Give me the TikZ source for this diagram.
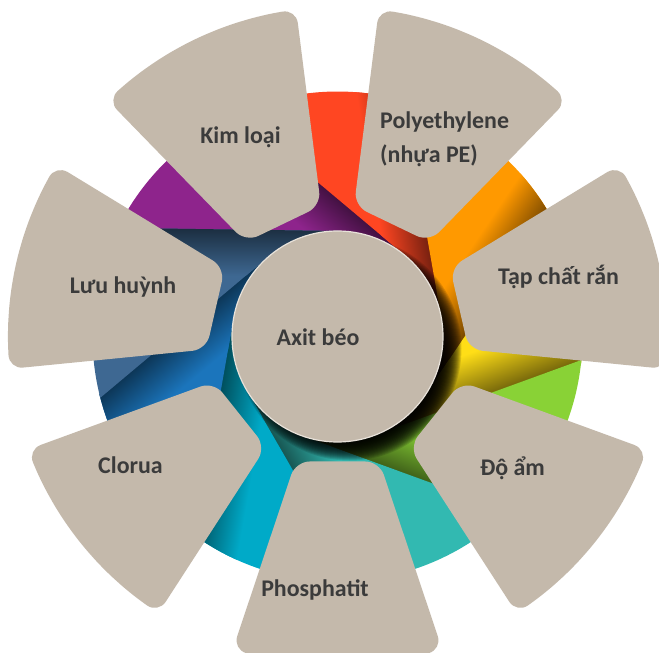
\documentclass[tikz,border=0pt]{standalone}
\usepackage{fontspec}
\setmainfont{Carlito}
\definecolor{petalfill}{RGB}{196,185,171}
\definecolor{labeltext}{RGB}{59,59,59}
\definecolor{rimcolor}{RGB}{232,226,218}
\definecolor{cpurple}{RGB}{142,36,140}
\definecolor{cred}{RGB}{255,70,34}
\definecolor{corange}{RGB}{255,153,0}
\definecolor{cyellow}{RGB}{255,222,23}
\definecolor{cgreen}{RGB}{137,210,54}
\definecolor{cteal}{RGB}{50,185,177}
\definecolor{ccyan}{RGB}{0,170,200}
\definecolor{cblue}{RGB}{27,117,188}
\definecolor{csteel}{RGB}{62,104,146}
\begin{document}
\begin{tikzpicture}[x=1bp,y=1bp,
  petal/.style={fill=petalfill, rounded corners=14bp},
  lbl/.style={font=\bfseries\fontsize{24}{34}\selectfont, text=labeltext, inner sep=0pt, anchor=base},
  core/.style={circle, minimum size=211bp, inner sep=0pt, fill=petalfill, draw=rimcolor, line width=1.2bp}]
\useasboundingbox (-337.5,-316.5) rectangle (321.5,336.5);
\fill[white] (-337.5,-316.5) rectangle (321.5,336.5);

% pinwheel of coloured blades: each blade lies between two tangent lines of the core circle
\foreach \pa/\pc/\base in {90/50/cpurple, 50/10/cred, 10/-34/corange, -34/-70/cyellow,
    -70/-110/cgreen, -110/-150/cteal, -150/-190/ccyan, -190/-230/cblue, -230/-270/csteel}{
  \pgfmathsetmacro\pb{\pc-0.8}
  \pgfmathsetmacro\oa{\pa+64.49}
  \pgfmathsetmacro\ob{\pb+64.49}
  \fill[\base] (\pa:105.5) -- (\oa:245) arc[start angle=\oa, end angle=\ob, radius=245]
     -- (\pb:105.5) arc[start angle=\pb, end angle=\pa, radius=105.5] -- cycle;
  \begin{scope}
    \clip (\pa:105.5) -- (\oa:245) arc[start angle=\oa, end angle=\ob, radius=245]
     -- (\pb:105.5) arc[start angle=\pb, end angle=\pa, radius=105.5] -- cycle;
    \begin{scope}[transform canvas={shift={(\pc:105.5)}, rotate=\pc+90}]
      \shade[top color=\base, bottom color=\base!40!black] (-90,-6) rectangle (260,45);
    \end{scope}
  \end{scope}
}

% soft shadow of the core towards the lower right
\foreach \r in {92,...,112}{
  \fill[black, opacity=0.13] (12,-12) circle (\r);
}

\node[core] (core) at (0,0) {};

% petals
\foreach \t/\nm in {-90/pphos,-38.571/pam,12.857/ptap,64.286/ppe,115.714/pkim,167.143/pluu,218.571/pclo}{
  \fill[petal] (\t-18.5:131.8) -- (\t-18.5:330) -- (\t-12.33:330) -- (\t-6.17:330) -- (\t:330)
     -- (\t+6.17:330) -- (\t+12.33:330) -- (\t+18.5:330) -- (\t+18.5:131.8) -- cycle;
}

% labels
\node[lbl] (axit) at (-19.5,-9.5) {Axit béo};
\node[lbl] (kim) at (-97,193.2) {Kim loại};
\node[lbl, anchor=base west] (pe1) at (42.5,208.2) {Polyethylene};
\node[lbl, anchor=base west] (pe2) at (42.5,174.2) {(nhựa PE)};
\node[lbl] (tap) at (221,51.5) {Tạp chất rắn};
\node[lbl] (luu) at (-214.5,43.2) {Lưu huỳnh};
\node[lbl] (doam) at (175,-138.5) {Độ ẩm};
\node[lbl] (clo) at (-207,-136.8) {Clorua};
\node[lbl] (phos) at (-22.5,-259.5) {Phosphatit};
\end{tikzpicture}
\end{document}
